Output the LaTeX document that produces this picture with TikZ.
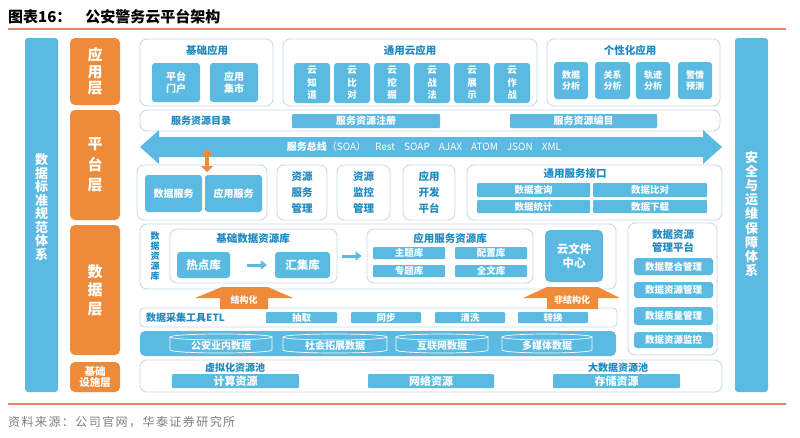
\documentclass[tikz,border=0pt]{standalone}
\usepackage{fontspec}
\setmainfont{Noto Sans CJK SC}
\newfontfamily\srcfont{Noto Sans CJK SC}[LetterSpace=12]
\usetikzlibrary{arrows.meta}
\definecolor{bl}{HTML}{5BBAE2}
\definecolor{org}{HTML}{EE8B3A}
\definecolor{db}{HTML}{1F8AC0}
\definecolor{fr}{HTML}{C9DCE6}
\definecolor{rl}{HTML}{E6826E}
\definecolor{gt}{HTML}{7F7F7F}
\newcommand\rbox[7]{%
  \pgfmathsetmacro\rbw{(#5)-(#3)}%
  \pgfmathsetmacro\rbh{(#6)-(#4)}%
  \node[#1, minimum width=\rbw pt, minimum height=\rbh pt] (#2) at ({((#3)+(#5))/2},{((#4)+(#6))/2}) {#7};}
\begin{document}
\begin{tikzpicture}[x=1pt,y=-1pt,
  frame/.style={draw=fr, line width=0.9pt, rounded corners=7pt, fill=white, inner sep=0pt, text=db, align=center, font=\bfseries\fontsize{10.5}{16}\selectfont},
  bb/.style={fill=bl, rounded corners=3pt, text=white, font=\bfseries\fontsize{9.5}{11}\selectfont, align=center, inner sep=0pt},
  bt/.style={text=db, font=\bfseries\fontsize{10}{11}\selectfont, align=center, inner sep=0pt},
  lay/.style={fill=org, rounded corners=5pt, text=white, align=center, inner sep=0pt, font=\bfseries\fontsize{15}{16.5}\selectfont},
  bar/.style={fill=bl, rounded corners=3pt, inner sep=0pt},
  thk/.style={draw=bl, line width=3pt, -{Triangle[width=9pt,length=6pt]}},
  wht/.style={text=white, font=\bfseries\fontsize{9}{10}\selectfont, inner sep=0pt},
  cyl/.style={draw=white, line width=0.7pt}
]
\useasboundingbox (0,0) rectangle (800,437);
\fill[white] (0,0) rectangle (800,437);
% title and rules
\node[anchor=west, inner sep=0pt, font=\bfseries\fontsize{15}{17}\selectfont] (title) at (8,17) {图表16：\hspace{14pt}公安警务云平台架构};
\draw[rl, line width=1.2pt] (8,29) -- (786,29);
\draw[rl, line width=1.2pt] (8,404) -- (786,404);
\node[anchor=west, inner sep=0pt, text=gt, font=\srcfont\fontsize{12}{14}\selectfont] (src) at (8,422) {资料来源：公司官网，华泰证券研究所};
% side bars
\rbox{bar}{lbar}{25}{38}{58}{392}{}
\node[text=white, align=center, inner sep=0pt, font=\bfseries\fontsize{13}{13.5}\selectfont] (ltxt) at (41.5,207) {数\\据\\标\\准\\规\\范\\体\\系};
\rbox{bar}{rbar}{735}{38}{768}{392}{}
\node[text=white, align=center, inner sep=0pt, font=\bfseries\fontsize{13}{14.2}\selectfont] (rtxt) at (751.5,214) {安\\全\\与\\运\\维\\保\\障\\体\\系};
% layers
\rbox{lay}{L1}{70}{38}{120}{105}{应\\用\\层}
\rbox{lay, font=\bfseries\fontsize{15}{20.5}\selectfont}{L2}{70}{110}{120}{220}{平\\台\\层}
\rbox{lay, font=\bfseries\fontsize{15}{18.5}\selectfont}{L3}{70}{225}{120}{355}{数\\据\\层}
\rbox{lay, font=\bfseries\fontsize{10.5}{11.5}\selectfont}{L4}{70}{362}{120}{392}{基础\\设施层}
% application layer
\rbox{frame}{F1}{140}{39}{273}{106}{}
\node[bt, font=\bfseries\fontsize{10.5}{11}\selectfont] (F1t) at (207,50) {基础应用};
\rbox{bb, font=\bfseries\fontsize{10}{12}\selectfont}{a1}{152}{63}{200}{102}{平台\\门户}
\rbox{bb, font=\bfseries\fontsize{10}{12}\selectfont}{a2}{210}{63}{258}{102}{应用\\集市}
\rbox{frame}{F2}{283}{39}{537}{106}{}
\node[bt, font=\bfseries\fontsize{10.5}{11}\selectfont] (F2t) at (410,50) {通用云应用};
\rbox{bb, font=\bfseries\fontsize{9.5}{12.5}\selectfont}{c1}{294}{63}{330}{103}{云\\知\\道}
\rbox{bb, font=\bfseries\fontsize{9.5}{12.5}\selectfont}{c2}{334}{63}{370}{103}{云\\比\\对}
\rbox{bb, font=\bfseries\fontsize{9.5}{12.5}\selectfont}{c3}{374}{63}{410}{103}{云\\挖\\掘}
\rbox{bb, font=\bfseries\fontsize{9.5}{12.5}\selectfont}{c4}{414}{63}{450}{103}{云\\战\\法}
\rbox{bb, font=\bfseries\fontsize{9.5}{12.5}\selectfont}{c5}{454}{63}{490}{103}{云\\展\\示}
\rbox{bb, font=\bfseries\fontsize{9.5}{12.5}\selectfont}{c6}{494}{63}{530}{103}{云\\作\\战}
\rbox{frame}{F3}{547}{39}{720}{106}{}
\node[bt, font=\bfseries\fontsize{10.5}{11}\selectfont] (F3t) at (630,50) {个性化应用};
\rbox{bb, font=\bfseries\fontsize{9}{11}\selectfont}{p1}{554}{62}{588}{99}{数据\\分析}
\rbox{bb, font=\bfseries\fontsize{9}{11}\selectfont}{p2}{595}{62}{630}{99}{关系\\分析}
\rbox{bb, font=\bfseries\fontsize{9}{11}\selectfont}{p3}{636}{62}{670}{99}{轨迹\\分析}
\rbox{bb, font=\bfseries\fontsize{9}{11}\selectfont}{p4}{678}{62}{712}{99}{警情\\预测}
% platform layer
\rbox{frame}{cat}{140}{110}{720}{131}{}
\node[bt] (catt) at (201,120.5) {服务资源目录};
\rbox{bb, rounded corners=1pt, font=\bfseries\fontsize{10}{11}\selectfont}{reg}{292}{114}{440}{128}{服务资源注册}
\rbox{bb, rounded corners=1pt, font=\bfseries\fontsize{10}{11}\selectfont}{cod}{510}{114}{657}{128}{服务资源编目}
\fill[bl] (140,147) -- (159,130) -- (159,137) -- (703,137) -- (703,130) -- (722,147) -- (703,164) -- (703,157) -- (159,157) -- (159,164) -- cycle;
\node[text=white, inner sep=0pt, font=\fontsize{10}{11}\selectfont] (bus) at (424,147) {\textbf{服务总线}（SOA）\hspace{9pt}Rest\hspace{9pt}SOAP\hspace{9pt}AJAX\hspace{9pt}ATOM\hspace{9pt}JSON\hspace{9pt}XML};
\rbox{frame}{P1}{137}{165}{267}{220}{}
\rbox{bb, font=\bfseries\fontsize{10}{11}\selectfont}{ds}{145}{175}{202}{212}{数据服务}
\rbox{bb, font=\bfseries\fontsize{10}{11}\selectfont}{as}{205}{175}{262}{212}{应用服务}
\coordinate (oa) at (207,149);
\coordinate (ob) at (207,172);
\draw[org, line width=4.5pt, {Triangle[width=12pt,length=6pt]}-{Triangle[width=12pt,length=6pt]}] (oa) -- (ob);
\rbox{frame}{P2}{277}{165}{327}{220}{资源\\服务\\管理}
\rbox{frame}{P3}{337}{165}{390}{220}{资源\\监控\\管理}
\rbox{frame}{P4}{403}{165}{455}{220}{应用\\开发\\平台}
\rbox{frame}{P5}{467}{165}{722}{220}{}
\node[bt, font=\bfseries\fontsize{10.5}{11}\selectfont] (P5t) at (575,174) {通用服务接口};
\rbox{bb, rounded corners=1pt}{q1}{477}{183}{590}{197}{数据查询}
\rbox{bb, rounded corners=1pt}{q2}{593}{183}{707}{197}{数据比对}
\rbox{bb, rounded corners=1pt}{q3}{477}{200}{590}{213}{数据统计}
\rbox{bb, rounded corners=1pt}{q4}{593}{200}{707}{213}{数据下载}
% data layer
\rbox{frame}{D0}{140}{224}{616}{289}{}
\node[bt, font=\bfseries\fontsize{9}{10}\selectfont] (D0t) at (155,256) {数\\据\\资\\源\\库};
\rbox{frame}{base}{170}{229}{337}{283}{}
\node[bt, font=\bfseries\fontsize{10.5}{11}\selectfont] (baset) at (253,238) {基础数据资源库};
\rbox{bb, font=\bfseries\fontsize{11.5}{12}\selectfont}{hot}{177}{252}{230}{278}{热点库}
\rbox{bb, font=\bfseries\fontsize{11.5}{12}\selectfont}{hui}{275}{252}{330}{278}{汇集库}
\draw[thk] ([xshift=17pt]hot.east) -- ([xshift=-8pt]hui.west);
\rbox{frame}{app}{367}{229}{533}{283}{}
\draw[thk] ([xshift=5pt]base.east) -- ([xshift=-5pt]app.west);
\node[bt, font=\bfseries\fontsize{10.5}{11}\selectfont] (appt) at (450,238) {应用服务资源库};
\rbox{bb, rounded corners=1pt}{k1}{373}{247}{445}{259}{主题库}
\rbox{bb, rounded corners=1pt}{k2}{455}{247}{527}{259}{配置库}
\rbox{bb, rounded corners=1pt}{k3}{373}{265}{445}{277}{专题库}
\rbox{bb, rounded corners=1pt}{k4}{455}{265}{527}{277}{全文库}
\rbox{bb, rounded corners=5pt, font=\bfseries\fontsize{11.5}{14}\selectfont}{cf}{545}{230}{603}{282}{云文件\\中心}
\rbox{frame}{mg}{628}{223}{717}{355}{}
\node[bt, font=\bfseries\fontsize{10.5}{13}\selectfont] (mgt) at (673,241) {数据资源\\管理平台};
\rbox{bb}{m1}{634}{258}{713}{275}{数据整合管理}
\rbox{bb}{m2}{634}{282}{713}{298}{数据资源管理}
\rbox{bb}{m3}{634}{307}{713}{325}{数据质量管理}
\rbox{bb}{m4}{634}{332}{713}{348}{数据资源监控}
% ETL
\rbox{frame, rounded corners=4pt}{etl}{140}{308}{617}{327}{}
\fill[org] (195,298) -- (222,287) -- (268,287) -- (293,298) -- (268,298) -- (268,309) -- (220,309) -- (220,298) -- cycle;
\node[wht] (st1) at (244,300) {结构化};
\fill[org] (523,298) -- (547,287) -- (598,287) -- (620,298) -- (598,298) -- (598,309) -- (547,309) -- (547,298) -- cycle;
\node[wht] (st2) at (572,300) {非结构化};
\node[bt, anchor=west, font=\bfseries\fontsize{10}{11}\selectfont] (etlt) at (146,317.5) {数据采集工具ETL};
\rbox{bb, rounded corners=1pt}{e1}{266}{312}{337}{323}{抽取}
\rbox{bb, rounded corners=1pt}{e2}{351}{312}{421}{323}{同步}
\rbox{bb, rounded corners=1pt}{e3}{435}{312}{505}{323}{清洗}
\rbox{bb, rounded corners=1pt}{e4}{518}{312}{588}{323}{转换}
% data sources
\rbox{bb, rounded corners=5pt}{srcbox}{140}{331}{616}{356}{}
\foreach \xa/\xb [count=\i] in {170/272, 283/387, 396/488, 502/592} {
  \draw[cyl] (\xa,337) -- (\xa,350) arc[start angle=180, end angle=360, x radius={(\xb-\xa)/2*1pt}, y radius=3pt] -- (\xb,337);
  \draw[cyl] ({(\xa+\xb)/2},337) ellipse [x radius={(\xb-\xa)/2*1pt}, y radius=3pt];
}
\node[wht, font=\bfseries\fontsize{10}{11}\selectfont] (s1) at (221,346) {公安业内数据};
\node[wht, font=\bfseries\fontsize{10}{11}\selectfont] (s2) at (335,346) {社会拓展数据};
\node[wht, font=\bfseries\fontsize{10}{11}\selectfont] (s3) at (442,346) {互联网数据};
\node[wht, font=\bfseries\fontsize{10}{11}\selectfont] (s4) at (547,346) {多媒体数据};
% infrastructure
\rbox{frame}{inf}{140}{360}{722}{392}{}
\node[bt] (v1) at (235,368) {虚拟化资源池};
\node[bt] (v2) at (618,368) {大数据资源池};
\rbox{bb, rounded corners=1pt, font=\bfseries\fontsize{11}{12}\selectfont}{r1}{172}{374}{299}{388}{计算资源}
\rbox{bb, rounded corners=1pt, font=\bfseries\fontsize{11}{12}\selectfont}{r2}{368}{374}{494}{388}{网络资源}
\rbox{bb, rounded corners=1pt, font=\bfseries\fontsize{11}{12}\selectfont}{r3}{553}{374}{680}{388}{存储资源}
\end{tikzpicture}
\end{document}
